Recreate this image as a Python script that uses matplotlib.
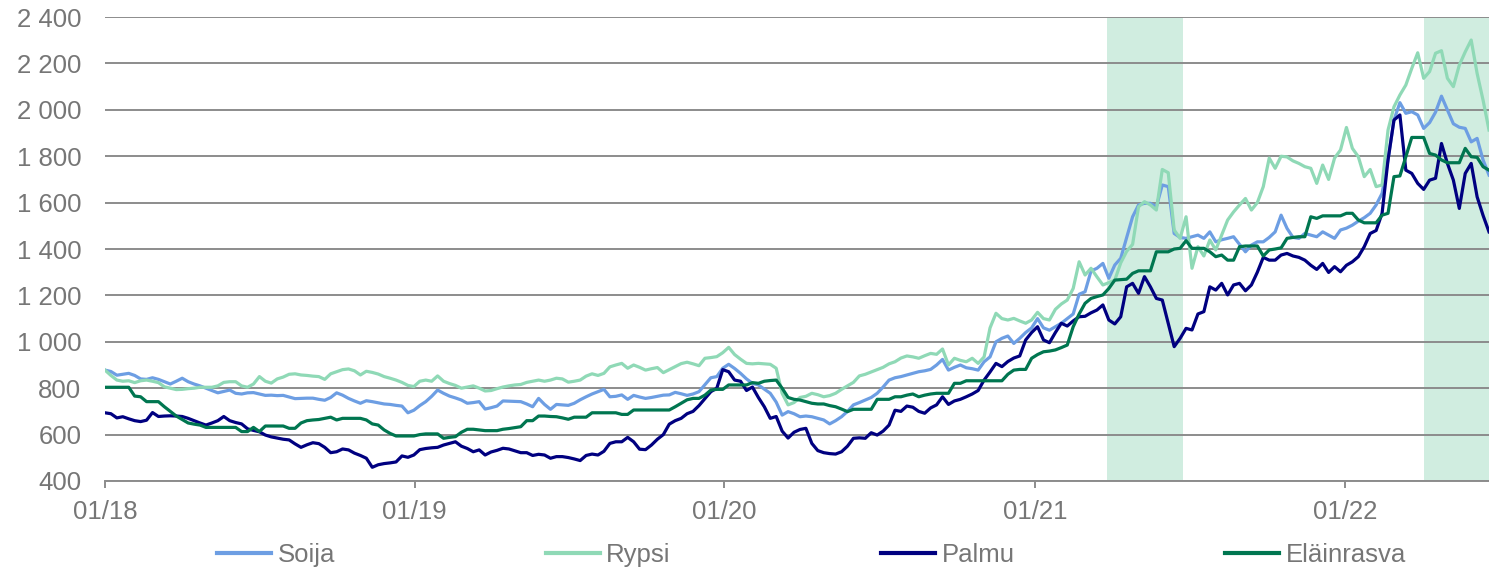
import pandas as pd
import matplotlib
matplotlib.use("Agg")
import matplotlib.pyplot as plt
import matplotlib.dates as mdates
from matplotlib.ticker import FuncFormatter, MultipleLocator

plt.rcParams["font.family"] = ["Liberation Sans", "DejaVu Sans"]

# weekly prices from the first week of 2018
dates = pd.date_range("2018-01-01", periods=234, freq="7D")

soija = [
    878, 872, 856, 860, 864, 855, 840, 838, 845, 838, 828, 818, 830,
    843, 828, 818, 810, 800, 790, 780, 786, 792, 778, 775, 780, 781,
    775, 769, 770, 768, 769, 762, 755, 756, 757, 757, 752, 748, 760,
    780, 770, 756, 745, 735, 746, 742, 737, 732, 730, 726, 723, 694,
    705, 725, 742, 765, 792, 778, 766, 758, 749, 735, 738, 742, 710,
    716, 723, 745, 744, 743, 742, 732, 720, 756, 730, 709, 730, 728,
    726, 735, 750, 763, 775, 785, 795, 763, 765, 771, 752, 769, 762,
    756, 760, 765, 770, 771, 782, 776, 769, 775, 785, 815, 845, 850,
    886, 903, 885, 864, 840, 821, 814, 796, 778, 740, 684, 699, 690,
    677, 680, 677, 670, 663, 646, 660, 677, 700, 728, 738, 749, 760,
    778, 805, 835, 845, 850, 857, 864, 871, 875, 881, 900, 924, 878,
    890, 900, 888, 884, 878, 914, 935, 1000, 1015, 1025, 993, 1015, 1040,
    1060, 1100, 1060, 1050, 1065, 1080, 1100, 1120, 1205, 1216, 1305, 1317, 1338,
    1274, 1331, 1360, 1450, 1539, 1590, 1597, 1597, 1582, 1676, 1669, 1467, 1450,
    1446, 1453, 1460, 1446, 1474, 1431, 1440, 1446, 1453, 1420, 1388, 1417, 1431,
    1431, 1450, 1474, 1546, 1489, 1450, 1446, 1467, 1460, 1453, 1474, 1460, 1446,
    1482, 1490, 1503, 1520, 1535, 1554, 1590, 1640, 1784, 1956, 2031, 1985, 1992,
    1978, 1920, 1945, 1990, 2059, 1999, 1940, 1925, 1920, 1862, 1877, 1784, 1719,
]

rypsi = [
    878, 855, 835, 830, 832, 824, 832, 835, 830, 824, 806, 800, 794,
    795, 798, 800, 804, 804, 804, 810, 825, 828, 828, 810, 804, 818,
    850, 830, 822, 840, 848, 860, 862, 857, 855, 852, 850, 838, 862,
    871, 880, 883, 875, 857, 873, 868, 861, 850, 843, 835, 825, 812,
    807, 830, 835, 830, 853, 830, 820, 812, 800, 805, 810, 800, 788,
    790, 798, 805, 810, 814, 816, 825, 830, 835, 830, 835, 843, 840,
    826, 830, 835, 852, 862, 855, 864, 892, 900, 907, 886, 900, 890,
    878, 884, 889, 867, 880, 893, 906, 912, 905, 897, 929, 932, 936,
    953, 976, 945, 925, 907, 905, 907, 905, 903, 886, 778, 728, 738,
    760, 765, 778, 772, 763, 768, 778, 795, 810, 825, 853, 860, 870,
    880, 890, 905, 914, 930, 939, 935, 929, 940, 950, 946, 969, 900,
    929, 920, 914, 929, 907, 935, 1060, 1123, 1100, 1094, 1101, 1090, 1080,
    1094, 1127, 1100, 1094, 1140, 1163, 1180, 1230, 1345, 1288, 1317, 1280, 1245,
    1255, 1266, 1340, 1390, 1420, 1582, 1604, 1590, 1568, 1743, 1729, 1482, 1446,
    1539, 1317, 1410, 1370, 1439, 1396, 1460, 1525, 1560, 1590, 1618, 1568, 1600,
    1669, 1792, 1748, 1800, 1797, 1780, 1769, 1755, 1748, 1683, 1762, 1700, 1792,
    1827, 1924, 1834, 1798, 1712, 1743, 1669, 1676, 1913, 2013, 2064, 2107, 2179,
    2246, 2136, 2165, 2244, 2255, 2136, 2100, 2193, 2250, 2301, 2157, 2042, 1913,
]

palmu = [
    694, 690, 672, 677, 668, 660, 656, 662, 695, 678, 680, 681, 680,
    678, 670, 660, 650, 641, 650, 660, 678, 660, 652, 646, 625, 618,
    612, 598, 590, 585, 580, 577, 560, 545, 556, 565, 561, 545, 522,
    526, 538, 534, 520, 510, 498, 459, 470, 475, 478, 482, 508, 502,
    512, 535, 540, 543, 545, 555, 562, 569, 550, 540, 526, 534, 512,
    525, 532, 541, 538, 530, 522, 522, 510, 515, 512, 498, 505, 505,
    501, 495, 488, 510, 516, 512, 528, 562, 569, 569, 588, 569, 537,
    535, 555, 580, 600, 645, 660, 670, 690, 700, 725, 755, 785, 800,
    880, 871, 835, 830, 790, 805, 760, 720, 670, 678, 615, 585, 610,
    622, 627, 562, 531, 522, 518, 516, 526, 550, 584, 586, 584, 608,
    598, 615, 641, 705, 700, 723, 718, 700, 692, 715, 728, 763, 730,
    745, 752, 763, 775, 790, 835, 870, 907, 893, 915, 930, 939, 1008,
    1040, 1065, 1008, 996, 1040, 1080, 1068, 1090, 1108, 1110, 1125, 1137, 1159,
    1094, 1077, 1108, 1237, 1252, 1209, 1281, 1237, 1187, 1180, 1080, 979, 1015,
    1058, 1051, 1120, 1130, 1237, 1223, 1252, 1202, 1245, 1252, 1220, 1245, 1300,
    1364, 1352, 1352, 1374, 1381, 1370, 1364, 1352, 1330, 1312, 1338, 1299, 1324,
    1302, 1330, 1345, 1367, 1410, 1467, 1480, 1554, 1784, 1956, 1978, 1740, 1726,
    1683, 1657, 1697, 1705, 1855, 1769, 1697, 1575, 1726, 1769, 1625, 1545, 1474,
]

elainrasva = [
    804, 804, 804, 804, 804, 766, 763, 742, 742, 742, 720, 700, 680,
    665, 650, 645, 641, 631, 631, 631, 631, 631, 631, 613, 613, 631,
    613, 637, 637, 637, 637, 627, 627, 650, 660, 663, 665, 670, 675,
    663, 670, 670, 670, 670, 663, 646, 641, 620, 605, 594, 594, 594,
    594, 600, 603, 603, 603, 584, 588, 591, 610, 623, 623, 620, 617,
    617, 617, 623, 626, 630, 634, 660, 660, 680, 680, 678, 677, 672,
    666, 675, 675, 675, 694, 694, 694, 694, 694, 687, 687, 706, 706,
    706, 706, 706, 706, 706, 720, 735, 750, 756, 756, 770, 792, 795,
    795, 814, 814, 814, 814, 824, 821, 830, 833, 835, 800, 760, 752,
    749, 742, 735, 732, 732, 725, 720, 710, 699, 709, 709, 709, 709,
    752, 752, 752, 763, 763, 770, 775, 763, 770, 775, 778, 778, 778,
    821, 821, 832, 832, 832, 832, 832, 832, 832, 860, 878, 881, 881,
    929, 945, 957, 960, 965, 975, 986, 1065, 1120, 1166, 1187, 1195, 1202,
    1230, 1266, 1268, 1270, 1295, 1306, 1306, 1306, 1388, 1388, 1388, 1400, 1403,
    1436, 1403, 1403, 1403, 1388, 1367, 1374, 1352, 1352, 1410, 1413, 1413, 1413,
    1370, 1396, 1400, 1405, 1446, 1450, 1453, 1453, 1539, 1532, 1543, 1543, 1543,
    1543, 1554, 1554, 1525, 1513, 1513, 1513, 1546, 1554, 1712, 1715, 1798, 1881,
    1881, 1881, 1812, 1805, 1784, 1772, 1772, 1772, 1834, 1798, 1795, 1755, 1740,
]

series = [
    ("Soija", soija, "#6d9ee3"),
    ("Rypsi", rypsi, "#8fd9b6"),
    ("Palmu", palmu, "#000080"),
    ("Eläinrasva", elainrasva, "#007650"),
]

# highlighted periods
shade_periods = [("2021-03-27", "2021-06-24"), ("2022-04-04", "2022-06-20")]

text_col = "#767676"
grid_col = "#8c8c8c"
fs = 18.5

fig = plt.figure(figsize=(14.89, 5.69), dpi=100)
ax = fig.add_axes([0.0705, 0.1547, 0.9295, 0.8153])

for start, end in shade_periods:
    ax.axvspan(pd.Timestamp(start), pd.Timestamp(end), color="#d0ede0", lw=0, zorder=0)

for name, vals, col in series:
    ax.plot(dates, vals, color=col, lw=2.3, label=name, zorder=3)

ax.set_ylim(400, 2400)
ax.yaxis.set_major_locator(MultipleLocator(200))
ax.yaxis.set_major_formatter(FuncFormatter(lambda v, p: f"{int(v):,}".replace(",", " ")))
ax.set_xlim(dates[0], dates[-1])
ax.xaxis.set_major_locator(mdates.YearLocator())
ax.xaxis.set_major_formatter(mdates.DateFormatter("%m/%y"))

ax.grid(axis="y", color=grid_col, lw=1.4, zorder=1)
ax.set_axisbelow(True)
for s in ["left", "top", "right"]:
    ax.spines[s].set_visible(False)
ax.spines["bottom"].set_color(grid_col)
ax.spines["bottom"].set_linewidth(1.4)

ax.tick_params(axis="y", length=0, pad=17, labelsize=fs, labelcolor=text_col)
ax.tick_params(axis="x", length=5, width=1.4, color=grid_col, pad=9,
               labelsize=fs, labelcolor=text_col)

leg = fig.legend(loc="center", bbox_to_anchor=(0.545, 0.025), ncol=4, frameon=False,
                 fontsize=fs, handlelength=2.1, handletextpad=0.25, columnspacing=8.2)
for t in leg.get_texts():
    t.set_color(text_col)
for h in leg.get_lines():
    h.set_linewidth(3)

fig.savefig("out.png", dpi=100)
